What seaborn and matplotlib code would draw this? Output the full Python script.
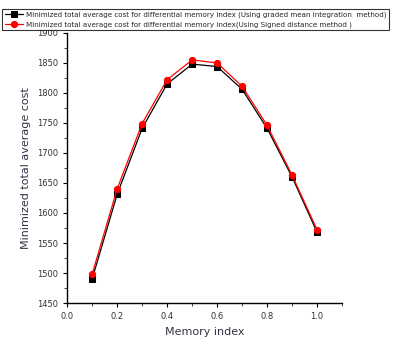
import matplotlib
matplotlib.use("Agg")
import matplotlib.pyplot as plt
import seaborn as sns
import pandas as pd
from matplotlib.ticker import MultipleLocator

memory_index = [0.1, 0.2, 0.3, 0.4, 0.5, 0.6, 0.7, 0.8, 0.9, 1.0]
graded_mean = [1490, 1631, 1741, 1815, 1848, 1844, 1806, 1741, 1660, 1568]
signed_distance = [1498, 1640, 1749, 1822, 1855, 1850, 1811, 1746, 1663, 1572]
label_graded = "Minimized total average cost for differential memory index (Using graded mean integration  method)"
label_signed = "Minimized total average cost for differential memory index(Using Signed distance method )"

sns.set_theme(style="ticks")
plt.rcParams['font.family'] = ['DejaVu Sans']

fig = plt.figure(figsize=(3.95, 3.54), dpi=100)
ax = fig.add_axes([0.17, 0.144, 0.696, 0.763])

df1 = pd.DataFrame({"x": memory_index, "y": graded_mean})
df2 = pd.DataFrame({"x": memory_index, "y": signed_distance})
sns.lineplot(data=df1, x="x", y="y", ax=ax, color="black", marker="s",
             markersize=4.5, linewidth=0.9, markeredgecolor="black", label=label_graded)
sns.lineplot(data=df2, x="x", y="y", ax=ax, color="red", marker="o",
             markersize=4.5, linewidth=0.9, markeredgecolor="red", label=label_signed)

ax.set_xlim(0, 1.1)
ax.set_ylim(1450, 1900)
ax.xaxis.set_major_locator(MultipleLocator(0.2))
ax.xaxis.set_minor_locator(MultipleLocator(0.1))
ax.yaxis.set_major_locator(MultipleLocator(50))
ax.yaxis.set_minor_locator(MultipleLocator(25))
ax.set_xticks([0.0, 0.2, 0.4, 0.6, 0.8, 1.0])
ax.set_xticklabels(["0.0", "0.2", "0.4", "0.6", "0.8", "1.0"])
ax.tick_params(axis="both", which="major", labelsize=6, length=3, width=0.8, colors="black", labelcolor="#333333")
ax.tick_params(axis="both", which="minor", length=2, width=0.6)
for s in ["top", "right"]:
    ax.spines[s].set_visible(False)
for s in ["left", "bottom"]:
    ax.spines[s].set_color("black")
    ax.spines[s].set_linewidth(1.0)

ax.set_xlabel("Memory index", fontsize=8, color="#333344")
ax.set_ylabel("Minimized total average cost", fontsize=8, color="#333344")

ax.get_legend().remove()
h, l = ax.get_legend_handles_labels()
leg = fig.legend(h, l, loc="upper left", bbox_to_anchor=(0.006, 0.974), fontsize=5.1,
                 frameon=True, fancybox=False, edgecolor="black", borderpad=0.35,
                 labelspacing=0.45, handlelength=2.6, handletextpad=0.4, borderaxespad=0)
leg.get_frame().set_linewidth(0.8)

fig.savefig("out.png", dpi=100)
